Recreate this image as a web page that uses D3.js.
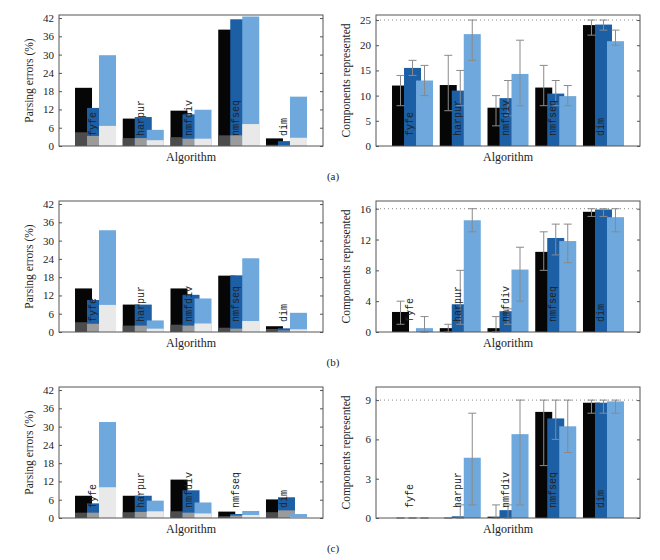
<!DOCTYPE html>
<html>
<head>
<meta charset="utf-8">
<script src="https://cdn.jsdelivr.net/npm/d3@7"></script>
<style>
  body { margin: 0; background: #fff; }
  svg text { font-family: "Liberation Serif", "DejaVu Serif", serif; fill: #222; }
  .cat { font-family: "Liberation Mono", "DejaVu Sans Mono", monospace; font-size: 10px; }
</style>
</head>
<body>
<script>
  // categories and series
  var algorithms = ['fyfe', 'harpur', 'nmfdiv', 'nmfseq', 'dim'];
  var seriesColors = ['#060606', '#1c5fa5', '#6ea8dc'];
  var baseColors = ['#4c4c4c', '#9b9b9b', '#e9e9e9'];

  // parsing errors (%): total height, and lower segment, per algorithm [s1, s2, s3]
  var parseTotA = [[19.1, 12.5, 29.8], [9.0, 9.5, 5.3], [11.6, 10.4, 11.9], [38.2, 41.6, 42.5], [2.5, 1.6, 16.2]];
  var parseBaseA = [[4.5, 3.3, 6.6], [2.6, 2.6, 1.9], [2.9, 2.4, 2.4], [3.5, 3.5, 7.2], [0.4, 0.3, 2.7]];
  var parseTotB = [[14.3, 10.5, 33.4], [9.0, 9.0, 3.8], [14.3, 12.2, 11.0], [18.5, 18.6, 24.2], [1.9, 1.2, 6.3]];
  var parseBaseB = [[3.2, 2.7, 8.9], [2.1, 2.1, 1.1], [2.4, 2.1, 2.8], [1.4, 1.1, 3.6], [1.0, 0.5, 0.9]];
  var parseTotC = [[7.3, 4.8, 31.5], [7.3, 7.3, 5.7], [12.6, 9.1, 5.1], [2.1, 1.3, 2.3], [6.1, 6.8, 1.3]];
  var parseBaseC = [[1.75, 1.75, 10.1], [1.9, 2.0, 2.2], [2.2, 1.75, 1.5], [0.6, 0.8, 1.0], [1.9, 2.5, 0.3]];

  // components represented: mean, and error range [lo, hi]
  var compA = [[12.0, 15.5, 13.0], [12.1, 11.0, 22.2], [7.6, 9.5, 14.3], [11.6, 10.4, 9.9], [24.0, 24.1, 20.8]];
  var compErrA = [[[8, 14], [14, 17], [10, 16]], [[7, 18], [8, 15], [17, 25]], [[4, 10], [6, 13], [8, 21]],
                  [[8, 16], [8, 13], [8, 12]], [[22, 25], [23, 25], [20, 23]]];
  var compB = [[2.6, 0, 0.5], [0.5, 3.6, 14.5], [0.5, 2.7, 8.1], [10.4, 12.2, 11.8], [15.6, 15.9, 14.9]];
  var compErrB = [[[1, 4], null, [0, 2]], [[0, 1], [1, 8], [13, 16]], [[0, 2], [1, 3], [4, 11]],
                  [[8, 13], [10, 14], [9, 14]], [[15, 16], [15, 16], [13, 16]]];
  var compC = [[0, 0, 0], [0, 0.13, 4.6], [0.1, 0.6, 6.4], [8.1, 7.6, 7.0], [8.8, 8.8, 8.9]];
  var compErrC = [[[0, 0], [0, 0], [0, 0]], [[0, 0], [0, 1], [1, 8]], [[0, 1], [0, 1], [1, 9]],
                  [[4, 9], [6, 9], [5, 9]], [[8, 9], [8, 9], [8, 9]]];

  var parseTicks = [0, 6, 12, 18, 24, 30, 36, 42];
  var compTicksA = [0, 5, 10, 15, 20, 25];
  var compTicksB = [0, 4, 8, 12, 16];
  var compTicksC = [0, 3, 6, 9];
  var captions = ['(a)', '(b)', '(c)'];

  function translate(x, y) {
    return 'translate(' + x + ',' + y + ')';
  }

  var W = 660, H = 560,
      panelW = 264, panelH = 131,
      leftX = 59, rightX = 376,
      rowTop = [15, 201, 387],
      barW = 17, barStep = 12;

  var svg = d3.select('body').append('svg')
      .attr('width', W)
      .attr('height', H);

  var x = d3.scaleLinear()
      .domain([0.235, 5.765])
      .range([0, panelW]);

  function barLeft(i, s) {
    return x(i + 1) - (2 * barStep + barW) / 2 + s * barStep;
  }

  function frame(g, y, ticks, yLabel) {
    g.append('rect')
      .attr('width', panelW)
      .attr('height', panelH)
      .attr('fill', 'none')
      .attr('stroke', '#555')
      .attr('stroke-width', 1);

    g.append('g')
      .call(d3.axisLeft(y).tickValues(ticks).tickSize(-3).tickPadding(5))
      .call(function(a) {
        a.select('.domain').remove();
        a.selectAll('line').attr('stroke', '#555');
        a.selectAll('text').style('font-family', '"Liberation Serif", serif').style('font-size', '11px').attr('fill', '#333');
      });

    g.append('g')
      .attr('transform', translate(panelW, 0))
      .call(d3.axisRight(y).tickValues(ticks).tickSize(-3).tickFormat(''))
      .call(function(a) {
        a.select('.domain').remove();
        a.selectAll('line').attr('stroke', '#555');
      });

    g.append('text')
      .attr('transform', translate(-26, panelH / 2) + ' rotate(-90)')
      .attr('text-anchor', 'middle')
      .style('font-size', '11.5px')
      .text(yLabel);

    g.append('text')
      .attr('x', panelW / 2)
      .attr('y', panelH + 15)
      .attr('text-anchor', 'middle')
      .style('font-size', '12px')
      .text('Algorithm');
  }

  function catLabels(g, y) {
    g.selectAll('text.cat')
      .data(algorithms)
      .enter().append('text')
        .attr('class', 'cat')
        .attr('transform', function(d, i) {
          return translate(x(i + 1) + 0.5, y(0) - 10) + ' rotate(-90)';
        })
        .attr('fill', '#222')
        .text(function(d) { return d; });
  }

  function parsePanel(row, tot, base) {
    var g = svg.append('g').attr('transform', translate(leftX, rowTop[row]));
    var y = d3.scaleLinear().domain([0, 43]).range([panelH, 0]);

    [0, 1, 2].forEach(function(s) {
      g.append('g').selectAll('rect.top')
        .data(algorithms)
        .enter().append('rect')
          .attr('x', function(d, i) { return barLeft(i, s); })
          .attr('y', function(d, i) { return y(tot[i][s]); })
          .attr('width', barW)
          .attr('height', function(d, i) { return y(0) - y(tot[i][s]); })
          .attr('fill', seriesColors[s]);

      g.append('g').selectAll('rect.base')
        .data(algorithms)
        .enter().append('rect')
          .attr('x', function(d, i) { return barLeft(i, s); })
          .attr('y', function(d, i) { return y(base[i][s]); })
          .attr('width', barW)
          .attr('height', function(d, i) { return y(0) - y(base[i][s]); })
          .attr('fill', baseColors[s]);
    });

    frame(g, y, parseTicks, 'Parsing errors (%)');
    catLabels(g, y);
  }

  function compPanel(row, vals, errs, ticks, ymax) {
    var g = svg.append('g').attr('transform', translate(rightX, rowTop[row]));
    var y = d3.scaleLinear().domain([0, ymax]).range([panelH, 0]);
    var top = ticks[ticks.length - 1];

    g.append('line')
      .attr('x1', 0).attr('x2', panelW)
      .attr('y1', y(top)).attr('y2', y(top))
      .attr('stroke', '#888')
      .attr('stroke-dasharray', '1,3');

    [0, 1, 2].forEach(function(s) {
      g.append('g').selectAll('rect')
        .data(algorithms)
        .enter().append('rect')
          .attr('x', function(d, i) { return barLeft(i, s); })
          .attr('y', function(d, i) { return y(vals[i][s]); })
          .attr('width', barW)
          .attr('height', function(d, i) { return y(0) - y(vals[i][s]); })
          .attr('fill', seriesColors[s]);
    });

    [0, 1, 2].forEach(function(s) {
      algorithms.forEach(function(d, i) {
        var e = errs[i][s];
        if (!e) return;
        var cx = barLeft(i, s) + barW / 2;
        var eb = g.append('g').attr('stroke', '#8a8a8a').attr('stroke-width', 1);
        eb.append('line').attr('x1', cx).attr('x2', cx).attr('y1', y(e[0])).attr('y2', y(e[1]));
        eb.append('line').attr('x1', cx - 4).attr('x2', cx + 4).attr('y1', y(e[0])).attr('y2', y(e[0]));
        eb.append('line').attr('x1', cx - 4).attr('x2', cx + 4).attr('y1', y(e[1])).attr('y2', y(e[1]));
      });
    });

    frame(g, y, ticks, 'Components represented');
    catLabels(g, y);
  }

  parsePanel(0, parseTotA, parseBaseA);
  parsePanel(1, parseTotB, parseBaseB);
  parsePanel(2, parseTotC, parseBaseC);
  compPanel(0, compA, compErrA, compTicksA, 26);
  compPanel(1, compB, compErrB, compTicksB, 17);
  compPanel(2, compC, compErrC, compTicksC, 10);

  svg.selectAll('text.caption')
    .data(captions)
    .enter().append('text')
      .attr('class', 'caption')
      .attr('x', 333)
      .attr('y', function(d, i) { return [180, 366, 552][i]; })
      .attr('text-anchor', 'middle')
      .style('font-size', '11px')
      .text(function(d) { return d; });
</script>
</body>
</html>
